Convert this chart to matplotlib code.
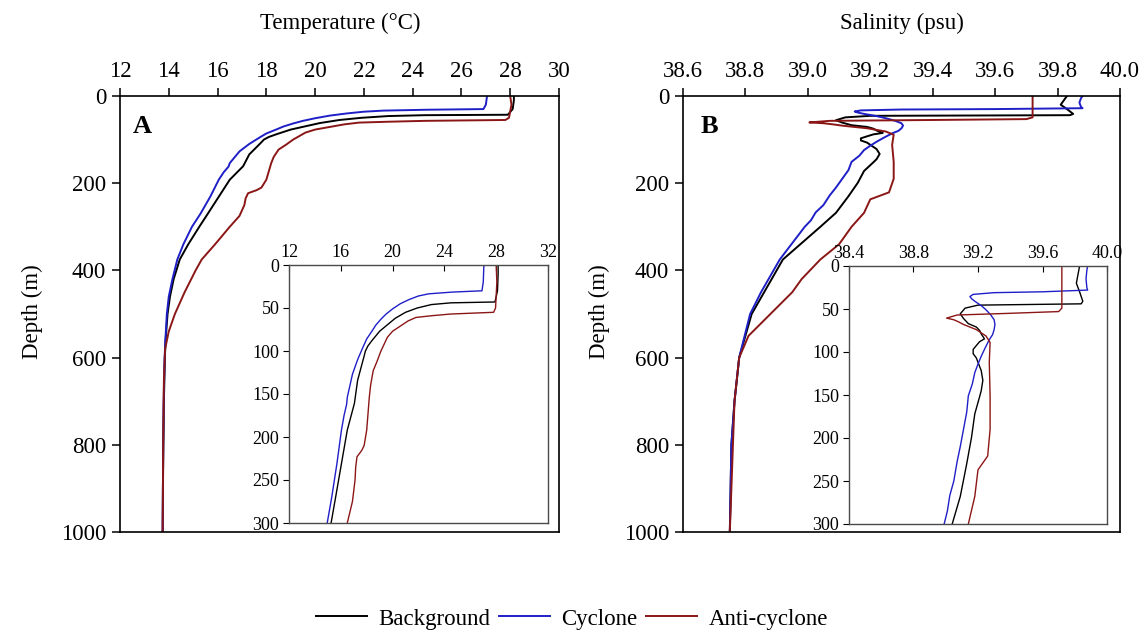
import matplotlib
matplotlib.use("Agg")
import matplotlib.pyplot as plt

plt.rcParams['font.family'] = ['Liberation Serif', 'DejaVu Serif']

# ---------------- data ----------------
series_names = ["Background", "Cyclone", "Anti-cyclone"]
series_colors = ["#000000", "#1f1fc8", "#8b1616"]

# Temperature profiles (depth m, temperature °C)
temp_bg_depth = [0, 10, 30, 40, 43, 44, 46, 50, 55, 62, 67, 77, 88, 94, 100, 106, 120, 134, 161, 192,
                 231, 270, 300, 340, 375, 420, 460, 500, 560, 600, 700, 800, 900, 1000]
temp_bg = [28.15, 28.15, 28.1, 27.95, 27.9, 24.5, 23.0, 21.9, 21.0, 20.2, 19.8, 19.0, 18.4, 18.1, 17.9,
           17.8, 17.55, 17.3, 17.05, 16.5, 16.05, 15.6, 15.25, 14.8, 14.45, 14.2, 14.05, 13.95, 13.87,
           13.84, 13.8, 13.78, 13.76, 13.75]

temp_cy_depth = [0, 20, 30, 31.5, 33.5, 36, 40, 45, 51, 57, 63, 70, 77, 86, 96, 110, 127, 154, 162, 175,
                 192, 231, 270, 300, 340, 375, 420, 460, 500, 560, 600, 700, 800, 1000]
temp_cy = [27.05, 27.0, 26.9, 24.6, 22.8, 22.0, 21.3, 20.6, 20.0, 19.5, 19.1, 18.7, 18.4, 18.0, 17.7,
           17.3, 16.9, 16.5, 16.45, 16.25, 16.05, 15.7, 15.3, 14.95, 14.6, 14.35, 14.15, 14.0, 13.92,
           13.86, 13.83, 13.79, 13.77, 13.75]

temp_ac_depth = [0, 20, 50, 55, 57, 59, 61, 65, 69, 77, 84, 92, 100, 112, 123, 140, 154, 192, 210, 216,
                 223, 235, 250, 275, 300, 340, 375, 400, 450, 500, 540, 580, 650, 800, 1000]
temp_ac = [28.0, 28.05, 27.95, 27.8, 24.5, 23.0, 21.8, 21.2, 20.8, 20.0, 19.6, 19.35, 19.1, 18.8, 18.5,
           18.3, 18.2, 18.0, 17.8, 17.6, 17.25, 17.15, 17.1, 16.9, 16.5, 15.9, 15.35, 15.1, 14.65, 14.25,
           14.0, 13.85, 13.8, 13.77, 13.75]

# Salinity profiles (depth m, salinity psu)
sal_bg_depth = [0, 10, 20, 30, 41, 44, 45.5, 49, 55.6, 61, 67, 71, 75, 79, 84.7, 88, 92.4, 97, 102, 107,
                112, 121.6, 133, 145, 152, 172, 199, 230, 268, 300, 375, 450, 500, 600, 700, 800, 1000]
sal_bg = [39.83, 39.82, 39.81, 39.83, 39.85, 39.84, 39.2, 39.12, 39.09, 39.11, 39.14, 39.19, 39.21, 39.22,
          39.24, 39.21, 39.19, 39.17, 39.17, 39.19, 39.20, 39.22, 39.23, 39.22, 39.21, 39.18, 39.16, 39.13,
          39.09, 39.04, 38.92, 38.86, 38.82, 38.78, 38.765, 38.755, 38.75]

sal_cy_depth = [0, 5, 15, 25, 28, 30, 31, 33, 35.5, 38, 41, 46, 51, 57, 62.6, 68, 74, 80, 85.7, 95, 105,
                114, 124, 137, 151, 170, 190, 210, 228, 250, 267, 285, 300, 375, 450, 500, 600, 700, 800, 1000]
sal_cy = [39.88, 39.875, 39.87, 39.875, 39.88, 39.6, 39.3, 39.17, 39.15, 39.16, 39.18, 39.22, 39.25, 39.28,
          39.30, 39.305, 39.30, 39.29, 39.27, 39.245, 39.22, 39.2, 39.18, 39.165, 39.14, 39.13, 39.11,
          39.09, 39.07, 39.05, 39.025, 39.01, 38.99, 38.91, 38.85, 38.815, 38.78, 38.765, 38.755, 38.75]

sal_ac_depth = [0, 49, 53, 55, 57, 60.6, 62.5, 65, 68, 74, 81.5, 89, 112, 151, 190, 221, 237, 268, 300,
                340, 375, 420, 450, 500, 550, 600, 700, 1000]
sal_ac = [39.72, 39.72, 39.70, 39.4, 39.07, 39.005, 39.05, 39.08, 39.11, 39.19, 39.25, 39.275, 39.27,
          39.275, 39.275, 39.26, 39.2, 39.18, 39.14, 39.1, 39.04, 38.98, 38.95, 38.88, 38.81, 38.78,
          38.765, 38.75]

temp_main_ticks = [12, 14, 16, 18, 20, 22, 24, 26, 28, 30]
temp_inset_ticks = [12, 16, 20, 24, 28, 32]
sal_main_ticks = [38.6, 38.8, 39.0, 39.2, 39.4, 39.6, 39.8, 40.0]
sal_inset_ticks = [38.4, 38.8, 39.2, 39.6, 40.0]
depth_main_ticks = [0, 200, 400, 600, 800, 1000]
depth_inset_ticks = [0, 50, 100, 150, 200, 250, 300]

# ---------------- figure ----------------
W, H = 1147, 636
fig = plt.figure(figsize=(W / 100, H / 100), dpi=100)


def px_rect(x0, y0, x1, y1):
    return [x0 / W, 1 - y1 / H, (x1 - x0) / W, (y1 - y0) / H]


def style_main(ax, xlim, xticks, fmt):
    ax.set_xlim(*xlim)
    ax.set_ylim(1000, 0)
    ax.xaxis.tick_top()
    ax.set_xticks(xticks)
    ax.set_xticklabels([fmt.format(t) for t in xticks])
    ax.set_yticks(depth_main_ticks)
    ax.tick_params(axis='both', direction='out', length=6, width=1.1, labelsize=16.5, pad=4)
    ax.tick_params(axis='y', right=False)
    for s in ax.spines.values():
        s.set_linewidth(1.2)
        s.set_color('#000000')


def style_inset(ax, xlim, xticks, fmt):
    ax.set_xlim(*xlim)
    ax.set_ylim(300, 0)
    ax.xaxis.tick_top()
    ax.set_xticks(xticks)
    ax.set_xticklabels([fmt.format(t) for t in xticks])
    ax.set_yticks(depth_inset_ticks)
    ax.tick_params(axis='x', direction='in', length=4, width=0.8, labelsize=13, pad=3)
    ax.tick_params(axis='y', direction='out', length=4, width=0.8, labelsize=13, pad=3)
    for s in ax.spines.values():
        s.set_linewidth(1.0)
        s.set_color('#4a4a4a')


temp_data = [(temp_bg_depth, temp_bg), (temp_cy_depth, temp_cy), (temp_ac_depth, temp_ac)]
sal_data = [(sal_bg_depth, sal_bg), (sal_cy_depth, sal_cy), (sal_ac_depth, sal_ac)]

# Panel A
axA = fig.add_axes(px_rect(120, 96, 559, 532))
handles = []
for (d, v), name, c in zip(temp_data, series_names, series_colors):
    h, = axA.plot(v, d, color=c, lw=1.4, label=name)
    handles.append(h)
style_main(axA, (12, 30), temp_main_ticks, "{:d}")
axA.text(0.03, 0.93, "A", transform=axA.transAxes, fontsize=19, fontweight='bold', va='center', ha='left')

axAi = fig.add_axes(px_rect(289, 265, 548, 523))
for (d, v), c in zip(temp_data, series_colors):
    axAi.plot(v, d, color=c, lw=1.0)
style_inset(axAi, (12, 32), temp_inset_ticks, "{:d}")

# Panel B
axB = fig.add_axes(px_rect(683, 96, 1120, 532))
for (d, v), c in zip(sal_data, series_colors):
    axB.plot(v, d, color=c, lw=1.4)
style_main(axB, (38.6, 40.0), sal_main_ticks, "{:.1f}")
axB.text(0.04, 0.93, "B", transform=axB.transAxes, fontsize=19, fontweight='bold', va='center', ha='left')

axBi = fig.add_axes(px_rect(849, 266, 1107, 524))
for (d, v), c in zip(sal_data, series_colors):
    axBi.plot(v, d, color=c, lw=1.0)
style_inset(axBi, (38.4, 40.0), sal_inset_ticks, "{:.1f}")

# Titles and axis labels
fig.text(340 / W, 1 - 23 / H, "Temperature (°C)", ha='center', va='center', fontsize=16.5)
fig.text(902 / W, 1 - 23 / H, "Salinity (psu)", ha='center', va='center', fontsize=16.5)
fig.text(32 / W, 1 - 312 / H, "Depth (m)", ha='center', va='center', rotation=90, fontsize=16.5)
fig.text(599 / W, 1 - 312 / H, "Depth (m)", ha='center', va='center', rotation=90, fontsize=16.5)

fig.legend(handles, series_names, loc='center', bbox_to_anchor=(572 / W, 1 - 619 / H), ncol=3,
           frameon=False, fontsize=16.5, handlelength=2.2, handletextpad=0.5, columnspacing=0.4)

fig.savefig("out.png", dpi=100)
